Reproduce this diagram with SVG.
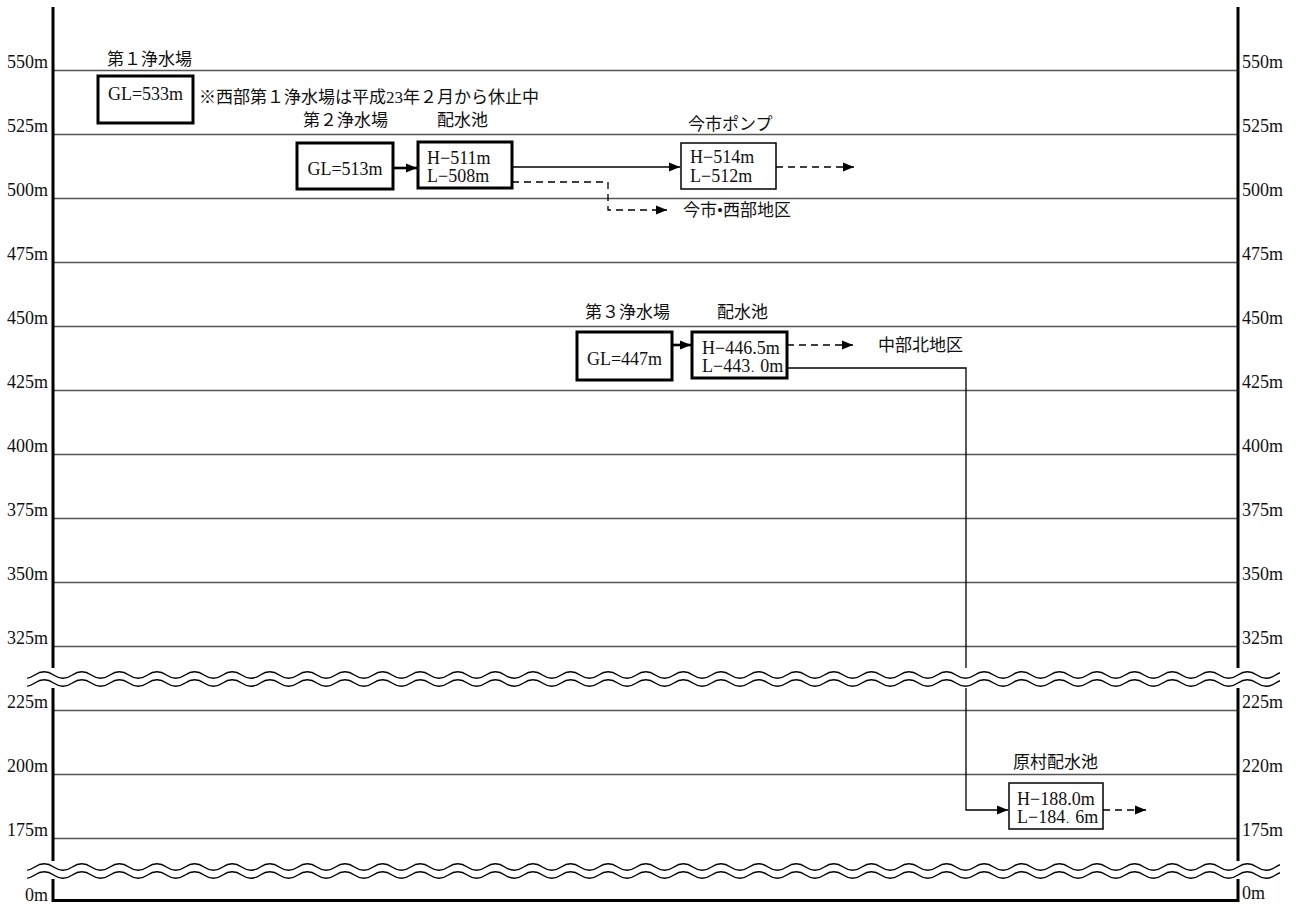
<svg xmlns="http://www.w3.org/2000/svg" width="1299" height="904" viewBox="0 0 1299 904">
<defs>
<style>
.grid{stroke:#555;stroke-width:1.5;fill:none}
.axis{stroke:#000;stroke-width:3;fill:none}
.t{font-family:"Liberation Serif","Noto Sans CJK JP",serif;fill:#111}
.lab{font-size:17px}
.num{font-size:18px}
.box{fill:#fff;stroke:#000}
.thick{stroke-width:3}
.thin{stroke-width:1.5}
.c{fill:none;stroke:#000;stroke-width:1.3}
.cb{stroke-width:2.6}
.d{stroke-dasharray:7 5}
.wave{fill:none;stroke:#000;stroke-width:1.4}
</style>
<marker id="ah" markerUnits="userSpaceOnUse" markerWidth="11" markerHeight="10" refX="11" refY="5" orient="auto"><path d="M0,0.5 L11,5 L0,9.5 z" fill="#000"/></marker>
<clipPath id="wc"><rect x="27" y="0" width="1253" height="904"/></clipPath>
<path id="wv" d="M16,0 q9.4,6.4 18.8,0 t18.8,0 t18.8,0 t18.8,0 t18.8,0 t18.8,0 t18.8,0 t18.8,0 t18.8,0 t18.8,0 t18.8,0 t18.8,0 t18.8,0 t18.8,0 t18.8,0 t18.8,0 t18.8,0 t18.8,0 t18.8,0 t18.8,0 t18.8,0 t18.8,0 t18.8,0 t18.8,0 t18.8,0 t18.8,0 t18.8,0 t18.8,0 t18.8,0 t18.8,0 t18.8,0 t18.8,0 t18.8,0 t18.8,0 t18.8,0 t18.8,0 t18.8,0 t18.8,0 t18.8,0 t18.8,0 t18.8,0 t18.8,0 t18.8,0 t18.8,0 t18.8,0 t18.8,0 t18.8,0 t18.8,0 t18.8,0 t18.8,0 t18.8,0 t18.8,0 t18.8,0 t18.8,0 t18.8,0 t18.8,0 t18.8,0 t18.8,0 t18.8,0 t18.8,0 t18.8,0 t18.8,0 t18.8,0 t18.8,0 t18.8,0 t18.8,0 t18.8,0 t18.8,0 t18.8,0 t18.8,0"/>
</defs>
<rect x="0" y="0" width="1299" height="904" fill="#fff"/>
<g id="grid">
<path class="grid" d="M53,70.5H1238M53,134.5H1238M53,198.5H1238M53,262.5H1238M53,326.5H1238M53,390.5H1238M53,454.5H1238M53,518.5H1238M53,582.5H1238M53,646.5H1238M53,710.5H1238M53,774.5H1238M53,838.5H1238"/>
<path class="axis" d="M53,7V901.5M1238,7V901.5M51.5,900.5H1239.5"/>
</g>
<g id="scale-left" class="t num" text-anchor="end">
<text x="48" y="68">550m</text><text x="48" y="132">525m</text><text x="48" y="196">500m</text><text x="48" y="260">475m</text><text x="48" y="324">450m</text><text x="48" y="388">425m</text><text x="48" y="452">400m</text><text x="48" y="516">375m</text><text x="48" y="580">350m</text><text x="48" y="644">325m</text><text x="48" y="708">225m</text><text x="48" y="772">200m</text><text x="48" y="836">175m</text><text x="48" y="901">0m</text>
</g>
<g id="scale-right" class="t num">
<text x="1242" y="68">550m</text><text x="1242" y="132">525m</text><text x="1242" y="196">500m</text><text x="1242" y="260">475m</text><text x="1242" y="324">450m</text><text x="1242" y="388">425m</text><text x="1242" y="452">400m</text><text x="1242" y="516">375m</text><text x="1242" y="580">350m</text><text x="1242" y="644">325m</text><text x="1242" y="708">225m</text><text x="1242" y="772">220m</text><text x="1242" y="836">175m</text><text x="1242" y="899">0m</text>
</g>
<g id="connectors">
<path class="c cb" d="M393,168H417" marker-end="url(#ah)"/>
<path class="c" d="M512,167H680" marker-end="url(#ah)"/>
<path class="c d" d="M512,182H608V210H667" marker-end="url(#ah)"/>
<path class="c d" d="M776,167H854" marker-end="url(#ah)"/>
<path class="c cb" d="M672,345H691" marker-end="url(#ah)"/>
<path class="c d" d="M787,345H853" marker-end="url(#ah)"/>
<path class="c" d="M787,368H966V810H1008" marker-end="url(#ah)"/>
<path class="c d" d="M1103,810H1146" marker-end="url(#ah)"/>
</g>
<g id="plant1">
<rect class="box thick" x="98" y="76" width="95" height="47"/>
<text class="t num" x="145.5" y="100" text-anchor="middle">GL=533m</text>
<text class="t lab" x="107" y="65">第１浄水場</text>
</g>
<g id="note">
<text class="t lab" x="199" y="103">※西部第１浄水場は平成23年２月から休止中</text>
</g>
<g id="plant2">
<rect class="box thick" x="297" y="143" width="96" height="46"/>
<text class="t num" x="345" y="175" text-anchor="middle">GL=513m</text>
<text class="t lab" x="303" y="126">第２浄水場</text>
</g>
<g id="reservoir2">
<rect class="box thick" x="418" y="142" width="94" height="46"/>
<text class="t num" x="427" y="164">H−511m</text>
<text class="t num" x="427" y="182">L−508m</text>
<text class="t lab" x="437" y="126">配水池</text>
</g>
<g id="imaichi-pump">
<rect class="box thin" x="681" y="143" width="95" height="46"/>
<text class="t num" x="690" y="163">H−514m</text>
<text class="t num" x="690" y="182">L−512m</text>
<text class="t lab" x="688" y="130">今市ポンプ</text>
</g>
<g id="area-imaichi">
<text class="t lab" x="683" y="216">今市•西部地区</text>
</g>
<g id="plant3">
<rect class="box thick" x="577" y="332" width="95" height="48"/>
<text class="t num" x="624.5" y="365" text-anchor="middle">GL=447m</text>
<text class="t lab" x="585" y="318">第３浄水場</text>
</g>
<g id="reservoir3">
<rect class="box thick" x="692" y="332" width="95" height="46"/>
<text class="t num" x="702" y="354">H−446.5m</text>
<text class="t num" x="702" y="372">L−443<tspan font-size="10">．</tspan>0m</text>
<text class="t lab" x="717" y="318">配水池</text>
</g>
<g id="area-chubu">
<text class="t lab" x="878" y="351">中部北地区</text>
</g>
<g id="haramura">
<rect class="box thin" x="1009" y="783" width="94" height="46"/>
<text class="t num" x="1017" y="805">H−188.0m</text>
<text class="t num" x="1017" y="823">L−184<tspan font-size="10">．</tspan>6m</text>
<text class="t lab" x="1013" y="768">原村配水池</text>
</g>
<g id="breaks">
<rect x="20" y="668" width="1270" height="20" fill="#fff"/>
<rect x="20" y="861" width="1270" height="18" fill="#fff"/>
<g clip-path="url(#wc)">
<use href="#wv" class="wave" transform="translate(0,675)"/>
<use href="#wv" class="wave" transform="translate(0,683)"/>
<use href="#wv" class="wave" transform="translate(0,867)"/>
<use href="#wv" class="wave" transform="translate(0,875)"/>
</g>
</g>
</svg>
